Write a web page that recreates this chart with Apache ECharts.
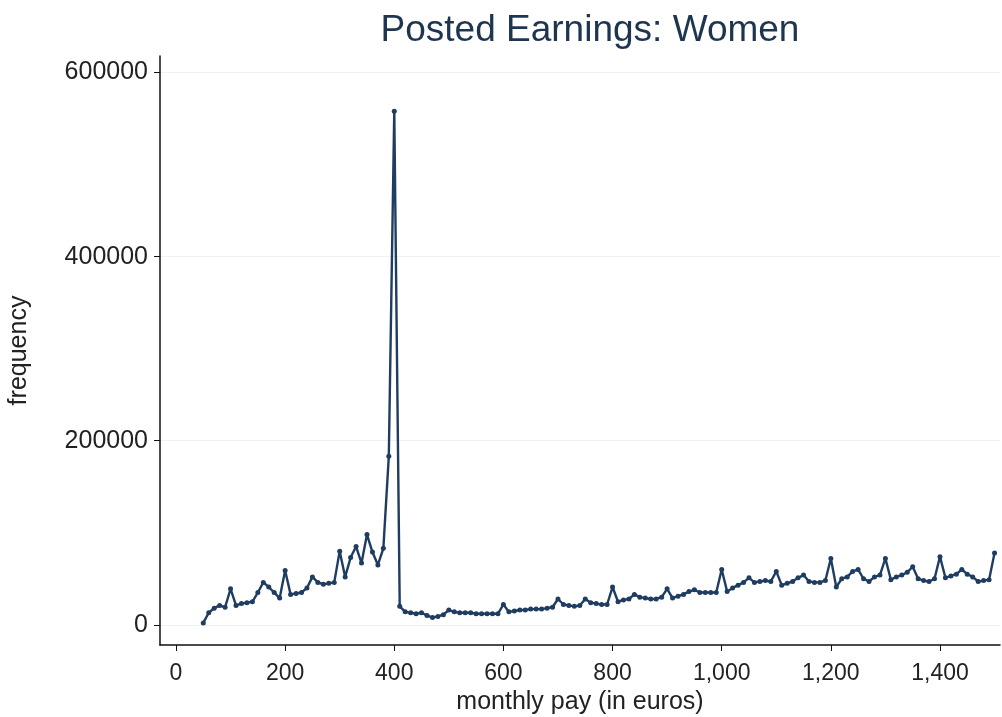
<!DOCTYPE html>
<html>
<head>
<meta charset="utf-8">
<script src="https://cdn.jsdelivr.net/npm/echarts@6/dist/echarts.min.js"></script>
<style>
html,body{margin:0;padding:0;background:#fff;}
#chart{width:1002px;height:717px;}
</style>
</head>
<body>
<div id="chart"></div>
<script>
const payBins = [50,60,70,80,90,100,110,120,130,140,150,160,170,180,190,200,210,220,230,240,250,260,270,280,290,300,310,320,330,340,350,360,370,380,390,400,410,420,430,440,450,460,470,480,490,500,510,520,530,540,550,560,570,580,590,600,610,620,630,640,650,660,670,680,690,700,710,720,730,740,750,760,770,780,790,800,810,820,830,840,850,860,870,880,890,900,910,920,930,940,950,960,970,980,990,1000,1010,1020,1030,1040,1050,1060,1070,1080,1090,1100,1110,1120,1130,1140,1150,1160,1170,1180,1190,1200,1210,1220,1230,1240,1250,1260,1270,1280,1290,1300,1310,1320,1330,1340,1350,1360,1370,1380,1390,1400,1410,1420,1430,1440,1450,1460,1470,1480,1490,1500];
const frequency = [2000,13000,18000,21000,19000,39000,21000,23000,24000,25000,35000,46000,41000,35000,29000,59000,33000,34000,35000,40000,52000,46000,44000,45000,46000,80000,52000,73000,85000,67000,98000,79000,65000,83000,183000,558000,20000,14000,13000,12000,13000,10000,8000,9000,11000,16000,14000,13000,13000,13000,12000,12000,12000,12000,12000,22000,14000,15000,16000,16000,17000,17000,17000,18000,19000,28000,22000,21000,20000,21000,28000,24000,23000,22000,22000,41000,25000,27000,28000,33000,30000,29000,28000,28000,30000,39000,29000,31000,33000,36000,38000,35000,35000,35000,35000,60000,36000,40000,43000,46000,51000,46000,47000,48000,47000,58000,43000,45000,47000,51000,54000,47000,46000,46000,48000,72000,41000,50000,52000,58000,60000,50000,47000,52000,54000,72000,49000,52000,54000,57000,63000,50000,48000,47000,50000,74000,51000,53000,55000,60000,55000,52000,47000,48000,49000,78000];
const xTicks = [0,200,400,600,800,1000,1200,1400];
const yTicks = [0,200000,400000,600000];
const titleText = 'Posted Earnings: Women';
const xName = 'monthly pay (in euros)';
const yName = 'frequency';

const seriesData = payBins.map((x, i) => [x, frequency[i]]);
const ink = '#1f3d60';
const font = 'Liberation Sans, Arial, Helvetica, sans-serif';

const chart = echarts.init(document.getElementById('chart'), null, {renderer: 'canvas'});
chart.setOption({
  animation: false,
  backgroundColor: '#ffffff',
  title: {
    text: titleText,
    left: 585,
    textAlign: 'center',
    top: 7,
    textStyle: {fontFamily: font, fontSize: 37, fontWeight: 'normal', color: '#1e3550'}
  },
  grid: {left: 160, right: 2, top: 56, bottom: 72, containLabel: false, outerBoundsMode: 'none'},
  xAxis: {
    type: 'value',
    min: -29.3,
    max: 1510,
    name: xName,
    nameLocation: 'middle',
    nameGap: 44,
    nameTextStyle: {fontFamily: font, fontSize: 25, color: '#222'},
    axisLine: {show: true, onZero: false, lineStyle: {color: '#111', width: 1.5}},
    axisTick: {show: true, length: 6, lineStyle: {color: '#111'}, customValues: xTicks},
    axisLabel: {
      fontFamily: font, fontSize: 23, color: '#222', margin: 17,
      customValues: xTicks,
      formatter: v => v.toLocaleString('en-US')
    },
    splitLine: {show: false}
  },
  yAxis: {
    type: 'value',
    min: -22000,
    max: 618000,
    name: yName,
    nameLocation: 'middle',
    nameGap: 128,
    nameRotate: 90,
    nameTextStyle: {fontFamily: font, fontSize: 25, color: '#222'},
    axisLine: {show: true, onZero: false, lineStyle: {color: '#111', width: 1.5}},
    axisTick: {show: true, length: 6, lineStyle: {color: '#111'}, customValues: yTicks},
    axisLabel: {
      fontFamily: font, fontSize: 25, color: '#222', margin: 12,
      customValues: yTicks,
      formatter: v => String(v)
    },
    splitLine: {show: true, lineStyle: {color: '#edf1f4', width: 1}, customValues: yTicks}
  },
  series: [{
    type: 'line',
    data: seriesData,
    symbol: 'circle',
    symbolSize: 5,
    showAllSymbol: true,
    lineStyle: {color: ink, width: 2.4},
    itemStyle: {color: ink},
    clip: false
  }]
});
</script>
</body>
</html>
